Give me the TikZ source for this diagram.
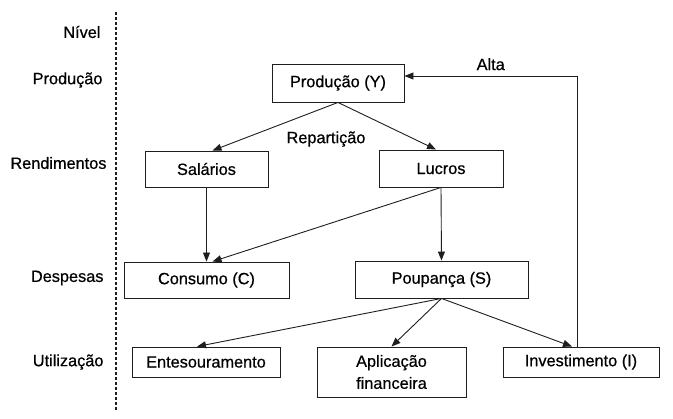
\documentclass[tikz,border=0pt]{standalone}
\usepackage{fontspec}
\setmainfont{Liberation Sans}
\newfontfamily\diagfam{Liberation Sans}[FakeBold=0.6]
\usepackage{tikz}
\usetikzlibrary{arrows.meta,positioning}
\definecolor{linegray}{RGB}{30,30,30}
\newcommand{\diagfont}{\diagfam\fontsize{16.3}{22}\selectfont}

\begin{document}
\begin{tikzpicture}[
    x=1pt, y=-1pt,
    box/.style={draw=linegray, line width=0.9pt, minimum height=36pt, text centered, font=\diagfont},
    lvl/.style={anchor=east, font=\diagfont},
    flow/.style={->, line width=0.9pt, draw=linegray},
    >={Triangle[length=9pt,width=7pt]}
]
\useasboundingbox (0,0) rectangle (673,419);

% --- Levels ---
\node[lvl] (lniv) at (104, 32) {Nível};
\node[lvl] (lprod) at (106, 80) {Produção};
\node[lvl] (lrend) at (110, 163) {Rendimentos};
\node[lvl] (ldesp) at (107, 278) {Despesas};
\node[lvl] (lutil) at (107, 362) {Utilização};

\coordinate (dtop) at (116, 12);
\coordinate (dbot) at (116, 412);
\draw[linegray, line width=1.1pt, dash pattern=on 3.5pt off 1.5pt] (dtop) -- (dbot);

% --- Boxes ---
\node[box, minimum width=132pt, minimum height=38pt] (prod) at (338, 83) {Produção (Y)};
\node[box, minimum width=123pt] (sal) at (206.5, 169) {Salários};
\node[box, minimum width=124pt, minimum height=37pt] (luc) at (441, 168.5) {Lucros};
\node[box, minimum width=165pt] (cons) at (206.5, 280) {Consumo (C)};
\node[box, minimum width=173pt, minimum height=37pt] (poup) at (441.5, 279.5) {Poupança (S)};
\node[box, minimum width=148pt, minimum height=30pt] (ent) at (206, 362) {Entesouramento};
\node[box, minimum width=149pt, minimum height=50pt, align=center] (apl) at (391.5, 372) {Aplicação\\financeira};
\node[box, minimum width=156pt, minimum height=30pt] (inv) at (581, 362) {Investimento (I)};

\node[font=\diagfont] (rep) at (326, 139) {Repartição};

% --- Connectors ---
\draw[flow] (prod.south) -- ([xshift=6pt]sal.north);
\draw[flow] (prod.south) -- ([xshift=-5pt]luc.north);
\draw[flow] (sal.south) -- (cons.north);
\draw[flow] (luc.south) -- ([xshift=6pt]cons.north);
\draw[flow] (luc.south) -- (poup.north);
\draw[flow] (poup.south) -- ([xshift=-9pt]ent.north);
\draw[flow] (poup.south) -- (apl.north);
\draw[flow] (poup.south) -- ([xshift=-9pt]inv.north);
\draw[flow] ([xshift=-4pt]inv.north) |- ([yshift=7pt]prod.east)
    node[pos=0.75, above=2pt, font=\diagfont] {Alta};

\end{tikzpicture}
\end{document}
